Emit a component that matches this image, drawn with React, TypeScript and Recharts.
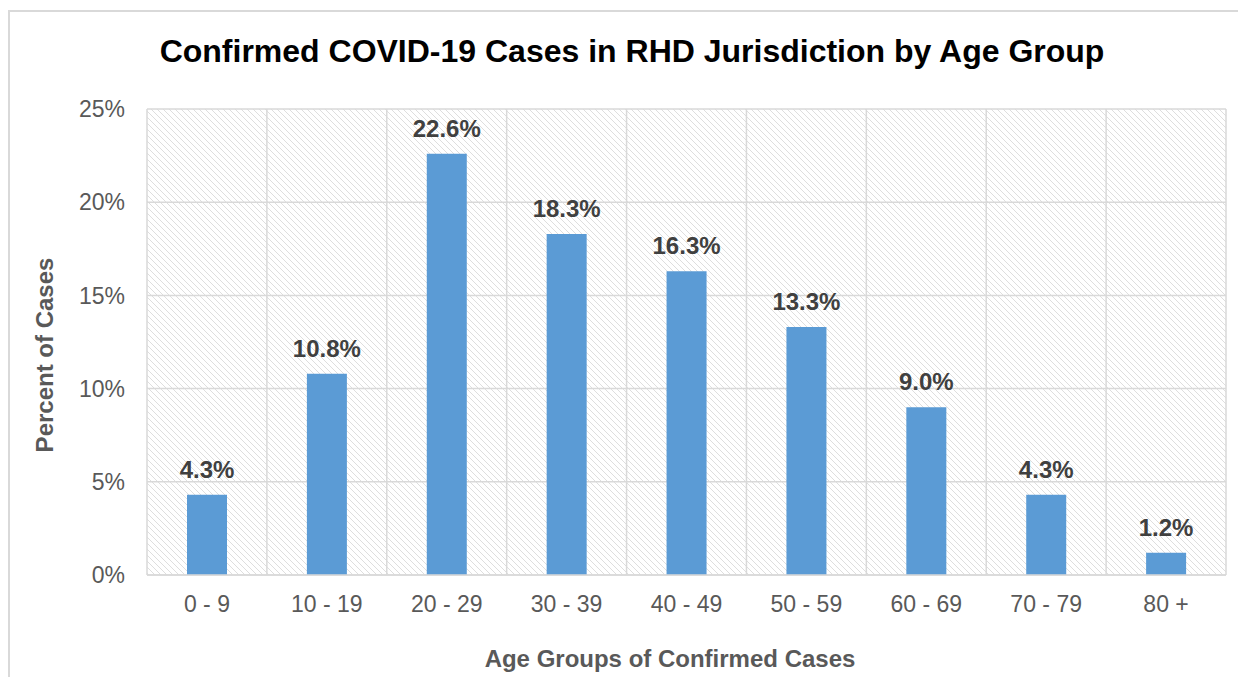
import {
  BarChart,
  Bar,
  XAxis,
  YAxis,
  CartesianGrid,
  LabelList,
} from "recharts";

const ageGroups = ["0 - 9", "10 - 19", "20 - 29", "30 - 39", "40 - 49", "50 - 59", "60 - 69", "70 - 79", "80 +"];
const percentCases = [4.3, 10.8, 22.6, 18.3, 16.3, 13.3, 9.0, 4.3, 1.2];
const yTicks = [0, 5, 10, 15, 20, 25];

const chartData = ageGroups.map((group, i) => ({
  group,
  pct: percentCases[i],
}));

const FONT = "'Liberation Sans', Arial, sans-serif";
const GRID = "#d9d9d9";

// vertical grid lines sit on the category boundaries, not the centres
const boundaryLines = ({ offset }: any) => {
  const step = offset.width / ageGroups.length;
  return ageGroups.map((_, i) => offset.left + i * step).concat(offset.left + offset.width);
};

export default function App() {
  return (
    <div style={{ position: "relative", width: 1238, height: 669, fontFamily: FONT }}>
      <div
        style={{
          position: "absolute",
          left: 0,
          top: 2,
          width: 1238,
          height: 667,
          borderTop: "2px solid #d9d9d9",
          borderLeft: "2px solid #d9d9d9",
          boxSizing: "border-box",
        }}
      />
      <div style={{ position: "absolute", left: -8, top: -8 }}>
        <BarChart
          width={1246}
          height={677}
          data={chartData}
          margin={{ top: 109, right: 20, bottom: 0, left: 0 }}
          barCategoryGap={0}
        >
          <defs>
            <pattern id="hatch" patternUnits="userSpaceOnUse" width={6} height={6}>
              <rect width={6} height={6} fill="#ffffff" />
              <path d="M-1,-1 L7,7 M-1,5 L1,7 M5,-1 L7,1" stroke="#dedede" strokeWidth={1} />
            </pattern>
          </defs>
          <text x={632} y={62} textAnchor="middle" fontSize={32} fontWeight="bold" fill="#000000" fontFamily={FONT}>
            Confirmed COVID-19 Cases in RHD Jurisdiction by Age Group
          </text>
          <text
            x={53}
            y={355}
            transform="rotate(-90 53 355)"
            textAnchor="middle"
            fontSize={24}
            fontWeight="bold"
            fill="#595959"
            fontFamily={FONT}
          >
            Percent of Cases
          </text>
          <text x={670} y={667} textAnchor="middle" fontSize={24} fontWeight="bold" fill="#595959" fontFamily={FONT}>
            Age Groups of Confirmed Cases
          </text>
          <CartesianGrid
            fill="url(#hatch)"
            stroke={GRID}
            strokeWidth={1.5}
            verticalCoordinatesGenerator={boundaryLines}
          />
          <XAxis
            dataKey="group"
            height={102}
            axisLine={{ stroke: GRID, strokeWidth: 1.5 }}
            tickLine={false}
            tickSize={0}
            tickMargin={21}
            interval={0}
            tick={{ fill: "#595959", fontSize: 23, fontFamily: FONT }}
          />
          <YAxis
            width={147}
            domain={[0, 25]}
            ticks={yTicks}
            axisLine={false}
            tickLine={false}
            tickSize={0}
            tickMargin={22}
            tickFormatter={(v) => `${v}%`}
            tick={{ fill: "#595959", fontSize: 23, fontFamily: FONT }}
          />
          <Bar dataKey="pct" fill="#5b9bd5" barSize={40} isAnimationActive={false}>
            <LabelList
              dataKey="pct"
              position="top"
              offset={17}
              formatter={(v: any) => `${Number(v).toFixed(1)}%`}
              fill="#404040"
              fontSize={24}
              fontWeight="bold"
              fontFamily={FONT}
            />
          </Bar>
        </BarChart>
      </div>
    </div>
  );
}
